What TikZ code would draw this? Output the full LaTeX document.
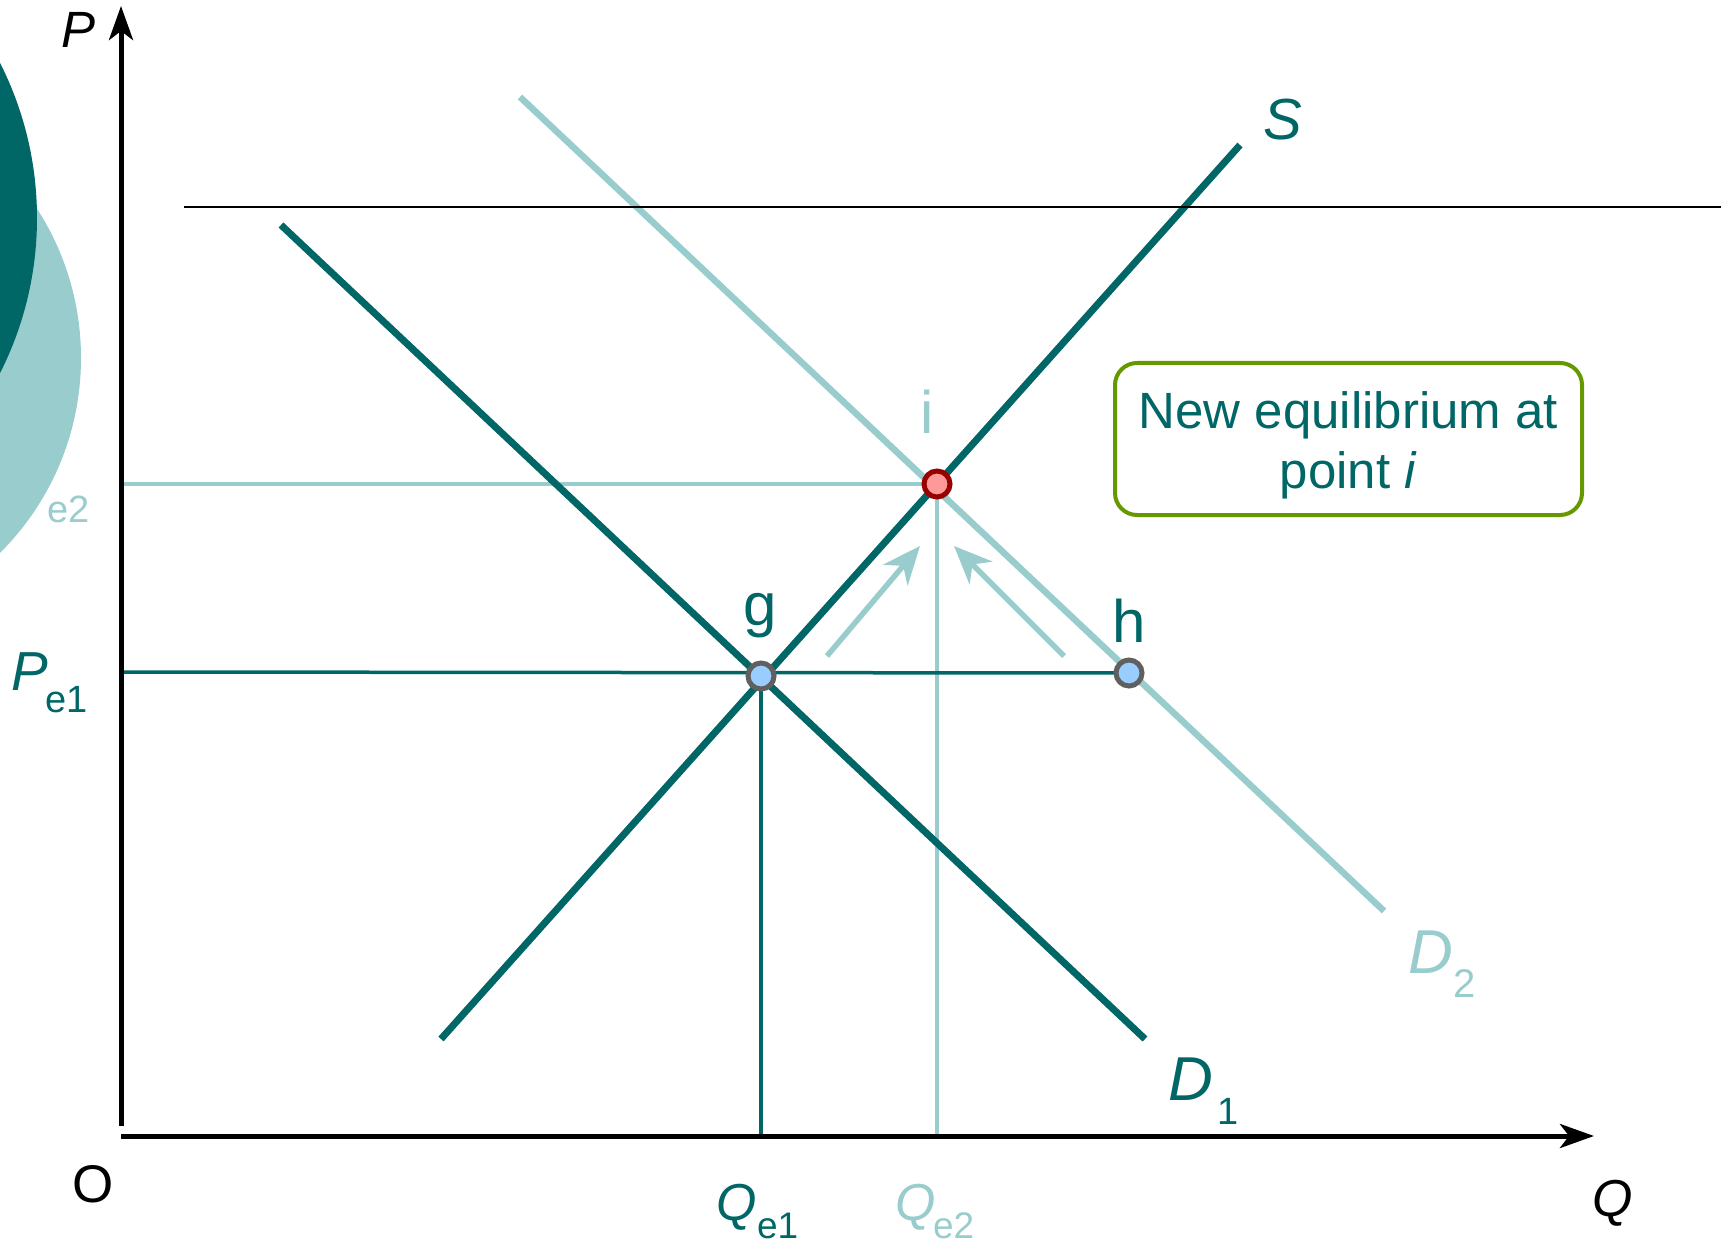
\documentclass[tikz,border=0pt]{standalone}
\usepackage{fontspec}
\setmainfont{Liberation Sans}
\usetikzlibrary{arrows.meta}
\definecolor{dk}{HTML}{006666}
\definecolor{lt}{HTML}{99CCCC}
\definecolor{gr}{HTML}{669900}
\definecolor{rd}{HTML}{990000}
\definecolor{pk}{HTML}{FF9999}
\definecolor{bl}{HTML}{99CCFF}
\definecolor{gy}{HTML}{606060}
\newcommand{\fsz}[1]{\fontsize{#1}{#1}\selectfont}
\tikzset{
  lab/.style={anchor=base west, inner sep=0pt, outer sep=0pt},
  curve/.style={line width=7pt},
  guide/.style={line width=3.5pt},
  axisline/.style={line width=5pt, black, -{Stealth[length=34pt,width=24pt,inset=9pt]}},
  shiftarrow/.style={line width=5.5pt, lt, -{Stealth[length=38pt,width=32pt,inset=12pt]}},
  oldpt/.style={circle, draw=gy, fill=bl, line width=5pt, minimum size=26pt, inner sep=0pt},
  newpt/.style={circle, draw=rd, fill=pk, line width=5pt, minimum size=26pt, inner sep=0pt},
}
\begin{document}
\begin{tikzpicture}[x=1pt,y=-1pt]
\useasboundingbox (0,0) rectangle (1721,1246);
\begin{scope}
\clip (0,0) rectangle (1721,1246);
% hidden P_e2 label under the circles
\node[lab, text=lt, font=\fsz{55}\itshape] (pe2P) at (12,500) {P};
\node[lab, text=lt, font=\fsz{38}] (pe2s) at (47,522) {e2};
\fill[lt] (-194,358) circle (275);
\fill[dk] (-306,218) circle (343);
\end{scope}

% coordinates
\coordinate (S1) at (441,1039);
\coordinate (S2) at (1240,145);
\coordinate (D1a) at (281,225);
\coordinate (D1b) at (1145,1039);
\coordinate (D2a) at (520,97);
\coordinate (D2b) at (1384,911);
\coordinate (gp) at (761,676);
\coordinate (ip) at (937,484);
\coordinate (hp) at (1129,673);
\coordinate (pe1) at (121,672);
\coordinate (pe2) at (121,484);
\coordinate (qe1) at (761,1136);
\coordinate (qe2) at (937,1136);
\coordinate (yb) at (121,1126);
\coordinate (yt) at (121,6);
\coordinate (xl) at (121,1136);
\coordinate (xr) at (1594,1136);
\coordinate (hl1) at (184,207);
\coordinate (hl2) at (1721,207);
\coordinate (a1s) at (827,656);
\coordinate (a1e) at (920,546);
\coordinate (a2s) at (1064,656);
\coordinate (a2e) at (954,546);

% guide lines
\draw[guide, lt] (pe2) -- (ip);
\draw[guide, lt] (ip) -- (qe2);
\draw[guide, dk] (pe1) -- (hp);
\draw[guide, dk] (gp) -- (qe1);

% curves
\draw[curve, lt, line width=6.5pt] (D2a) -- (D2b);
\draw[curve, dk] (D1a) -- (D1b);
\draw[curve, dk] (S1) -- (S2);

% thin black line
\draw[line width=2.5pt, black] (hl1) -- (hl2);

% axes
\draw[axisline] (yb) -- (yt);
\draw[axisline] (xl) -- (xr);

% shift arrows
\draw[shiftarrow] (a1s) -- (a1e);
\draw[shiftarrow] (a2s) -- (a2e);

% points
\node[oldpt] (g) at (gp) {};
\node[oldpt] (h) at (hp) {};
\node[newpt] (i) at (ip) {};

% box
\node[draw=gr, line width=4pt, rounded corners=22pt, minimum width=467pt, minimum height=152pt,
      inner sep=0pt] (box) at (1348.5,439) {};
\node[align=center, text=dk, font=\fontsize{51}{60}\selectfont, inner sep=0pt] (boxtext)
      at ([yshift=-6pt]box.center) {New equilibrium at\\point \textit{i}};

% labels
\node[lab, font=\fsz{51}\itshape] (lP) at (61,48) {P};
\node[lab, text=dk, font=\fsz{58}\itshape] (lS) at (1263,140) {S};
\node[anchor=base, inner sep=0pt, text=lt, font=\fsz{60}] (li) at (927,433) {i};
\node[anchor=base, inner sep=0pt, text=dk, font=\fsz{60}] (lg) at (760,625) {g};
\node[anchor=base, inner sep=0pt, text=dk, font=\fsz{60}] (lh) at (1129,642) {h};
\node[lab, text=dk, font=\fsz{55}\itshape] (pe1P) at (12,690) {P};
\node[lab, text=dk, font=\fsz{38}] (pe1s) at (45,712) {e1};
\node[lab, font=\fsz{53}] (lO) at (72,1202) {O};
\node[lab, text=dk, font=\fsz{52}\itshape] (qe1Q) at (716,1220) {Q};
\node[lab, text=dk, font=\fsz{37}] (qe1s) at (757,1238) {e1};
\node[lab, text=lt, font=\fsz{52}\itshape] (qe2Q) at (895,1220) {Q};
\node[lab, text=lt, font=\fsz{37}] (qe2s) at (933,1238) {e2};
\node[lab, font=\fsz{52}\itshape] (lQ) at (1592,1216) {Q};
\node[lab, text=dk, font=\fsz{62}\itshape] (d1D) at (1168,1100) {D};
\node[lab, text=dk, font=\fsz{38}] (d1s) at (1217,1124) {1};
\node[lab, text=lt, font=\fsz{62}\itshape] (d2D) at (1408,973) {D};
\node[lab, text=lt, font=\fsz{40}] (d2s) at (1453,997) {2};
\end{tikzpicture}
\end{document}
